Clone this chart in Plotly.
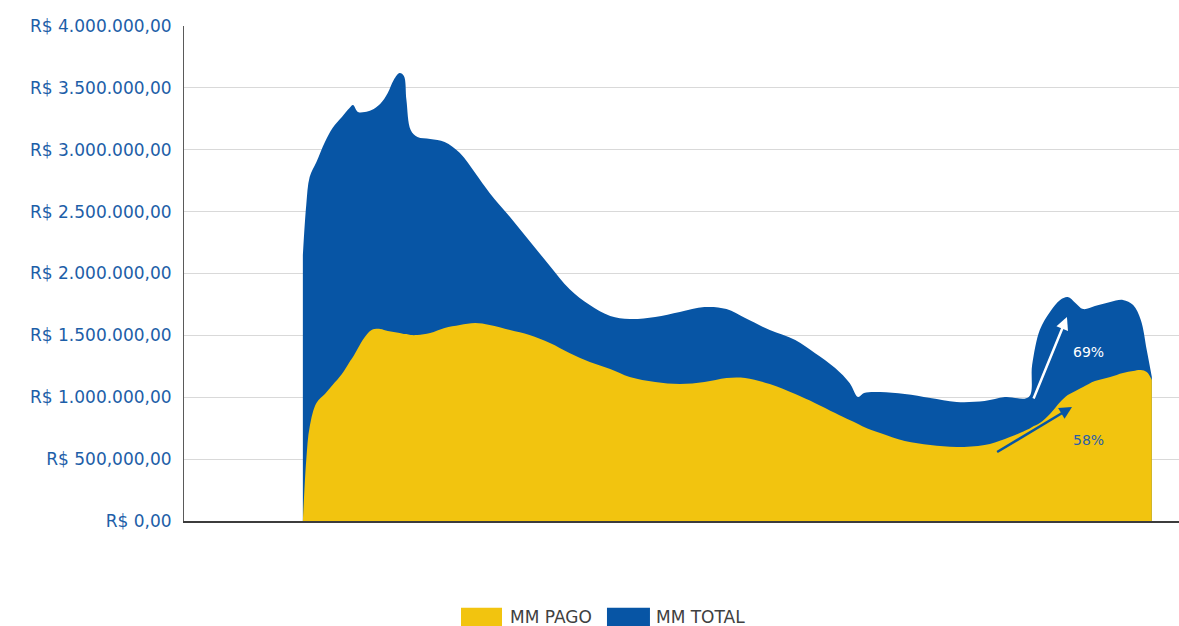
import plotly.graph_objects as go

# Moving-average series: total amount vs. paid amount, sampled by day index
dias = [0, 4, 8, 16, 26, 35, 46, 55, 59, 65, 73, 81, 91, 100, 107, 114, 119, 122,
        127, 135, 150, 167, 185, 203, 220, 244, 267, 291, 314, 338, 362, 385, 415,
        444, 473, 499, 521, 550, 580, 603, 627, 644, 654, 661, 680, 709, 739, 770,
        803, 827, 855, 859, 868, 880, 892, 901, 910, 919, 933, 951, 966, 978, 987,
        994, 1000]

mm_total = [2150000, 2554000, 2780000, 2901000, 3063000, 3176000, 3265000, 3337000,
            3362000, 3305000, 3305000, 3321000, 3370000, 3459000, 3564000, 3620000,
            3596000, 3402000, 3160000, 3103000, 3087000, 3063000, 2974000, 2812000,
            2651000, 2457000, 2263000, 2061000, 1875000, 1745000, 1657000, 1632000,
            1649000, 1689000, 1729000, 1713000, 1640000, 1543000, 1463000, 1358000,
            1236000, 1115000, 1002000, 1034000, 1042000, 1026000, 994000, 962000,
            970000, 1002000, 1002000, 1261000, 1543000, 1689000, 1786000, 1810000,
            1762000, 1713000, 1737000, 1770000, 1786000, 1745000, 1624000, 1382000,
            1164000]

mm_pago = [0, 493000, 760000, 954000, 1026000, 1099000, 1188000, 1285000, 1325000,
           1398000, 1487000, 1543000, 1552000, 1535000, 1527000, 1519000, 1511000,
           1511000, 1503000, 1503000, 1519000, 1560000, 1584000, 1600000, 1584000,
           1543000, 1503000, 1438000, 1358000, 1285000, 1228000, 1164000, 1123000,
           1107000, 1123000, 1156000, 1156000, 1107000, 1026000, 954000, 873000,
           816000, 784000, 760000, 711000, 646000, 614000, 598000, 614000, 663000,
           743000, 760000, 792000, 865000, 962000, 1018000, 1051000, 1083000,
           1131000, 1164000, 1196000, 1212000, 1220000, 1204000, 1139000]

y_ticks = [0, 500000, 1000000, 1500000, 2000000, 2500000, 3000000, 3500000, 4000000]
y_tick_labels = ["R$ 0,00", "R$ 500,000,00", "R$ 1.000.000,00", "R$ 1.500.000,00",
                 "R$ 2.000.000,00", "R$ 2.500.000,00", "R$ 3.000.000,00",
                 "R$ 3.500.000,00", "R$ 4.000.000,00"]

series_names = ["MM PAGO", "MM TOTAL"]
pct_total = "69%"
pct_pago = "58%"

BLUE = "#0755a5"
YELLOW = "#f2c40f"
TICK_BLUE = "#1d5ea8"
FONT = "DejaVu Sans"

fig = go.Figure()

fig.add_trace(go.Scatter(
    x=dias, y=mm_total, name=series_names[1], mode="lines",
    line=dict(width=0, shape="spline", smoothing=1, color=BLUE),
    fill="tozeroy", fillcolor=BLUE, showlegend=False, hoverinfo="skip"))

fig.add_trace(go.Scatter(
    x=dias, y=mm_pago, name=series_names[0], mode="lines",
    line=dict(width=0, shape="spline", smoothing=1, color=YELLOW),
    fill="tozeroy", fillcolor=YELLOW, showlegend=False, hoverinfo="skip"))

# Growth arrows with percentage labels
fig.add_annotation(x=900, y=1649000, ax=860, ay=978000, axref="x", ayref="y",
                   xref="x", yref="y", text="", showarrow=True, arrowhead=2,
                   arrowsize=1, arrowwidth=2.5, arrowcolor="white")
fig.add_annotation(x=906, y=921000, ax=816, ay=550000, axref="x", ayref="y",
                   xref="x", yref="y", text="", showarrow=True, arrowhead=2,
                   arrowsize=1, arrowwidth=2.5, arrowcolor=BLUE)
fig.add_annotation(x=925, y=1366000, xref="x", yref="y", text=pct_total,
                   showarrow=False, font=dict(family=FONT, size=14, color="white"))
fig.add_annotation(x=925, y=655000, xref="x", yref="y", text=pct_pago,
                   showarrow=False, font=dict(family=FONT, size=14, color="#2a5ea8"))

# Legend drawn as swatches + labels below the plot
legend_items = [(series_names[0], YELLOW, 0.2784, 0.3196, 0.3256),
                (series_names[1], BLUE, 0.4251, 0.4683, 0.4724)]
for name, color, x0, x1, xt in legend_items:
    fig.add_shape(type="rect", xref="paper", yref="paper", x0=x0, x1=x1,
                  y0=-0.235, y1=-0.1755, fillcolor=color, line=dict(width=0))
    fig.add_annotation(x=xt, y=-0.1935, xref="paper", yref="paper", text=name,
                       xanchor="left", yanchor="middle", showarrow=False,
                       font=dict(family=FONT, size=17, color="#404040"))

fig.update_layout(
    width=1179, height=626,
    margin=dict(l=184, r=0, t=26, b=105),
    paper_bgcolor="white", plot_bgcolor="white",
    font=dict(family=FONT),
    xaxis=dict(range=[-140, 1032], showgrid=False, zeroline=False,
               showticklabels=False, ticks="", showline=True,
               linecolor="#3c3c3c", linewidth=2),
    yaxis=dict(range=[0, 4000000], tickvals=y_ticks, ticktext=y_tick_labels,
               showgrid=True, gridcolor="#d9d9d9", gridwidth=1, zeroline=False,
               showline=True, linecolor="#5a5a5a", linewidth=1, ticks="",
               ticklabelstandoff=8,
               tickfont=dict(family=FONT, size=17, color=TICK_BLUE)),
)

fig.write_html("out.html")
